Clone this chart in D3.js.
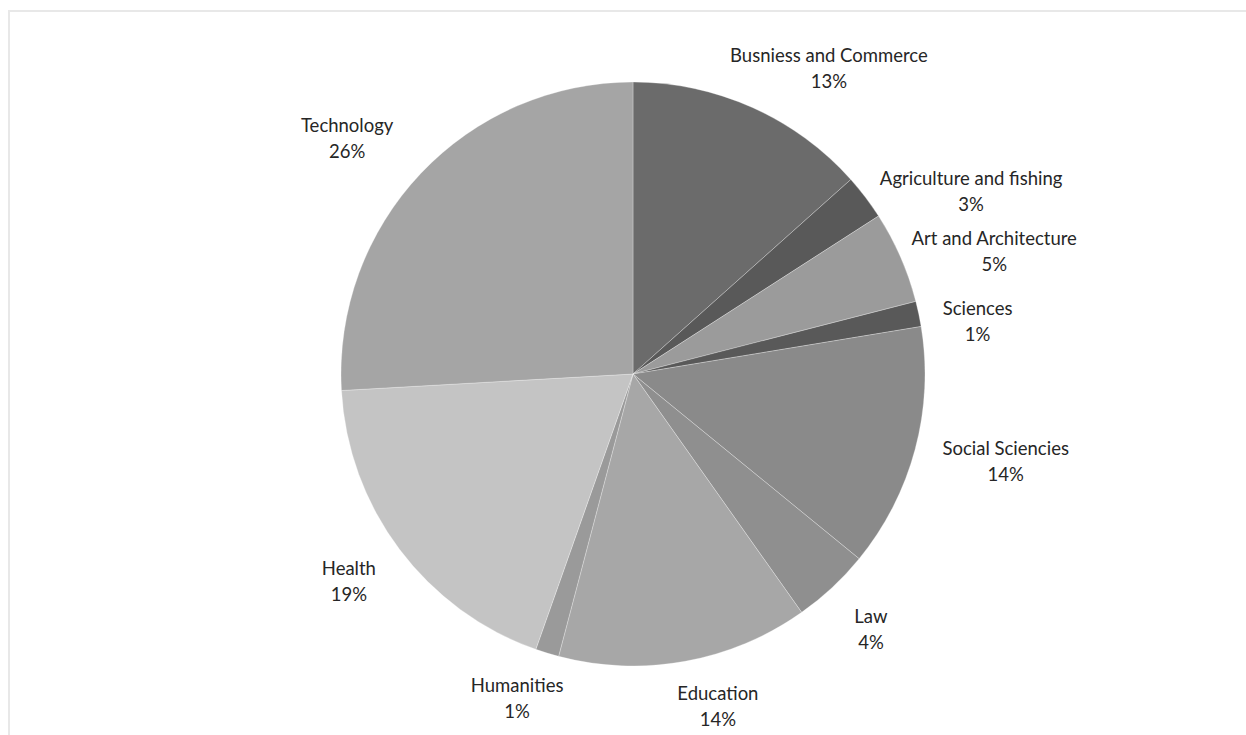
<!DOCTYPE html>
<html>
<head>
<meta charset="utf-8">
<script src="https://cdn.jsdelivr.net/npm/d3@7"></script>
<style>
  html, body { margin: 0; padding: 0; background: #fff; }
  svg { display: block; }
  .lbl { font-family: Lato, "Open Sans", sans-serif; font-size: 18.5px; fill: #262626; }
</style>
</head>
<body>
<svg id="chart" width="1246" height="735"></svg>
<script>
// Share of programmes by field (percent), clockwise from 12 o'clock
const categories = [
  "Busniess and Commerce", "Agriculture and fishing", "Art and Architecture",
  "Sciences", "Social Sciencies", "Law", "Education", "Humanities", "Health", "Technology"
];
const shares = [13.4, 2.5, 5.1, 1.4, 13.5, 4.3, 13.9, 1.3, 18.7, 25.9];
const sliceColors = [
  "#6b6b6b", "#595959", "#9b9b9b", "#595959", "#8a8a8a",
  "#8f8f8f", "#a7a7a7", "#9a9a9a", "#c4c4c4", "#a5a5a5"
];

const W = 1246, H = 735;
const cx = 633, cy = 374, radius = 292;

const svg = d3.select("#chart");

// light chart-area frame
svg.append("path")
  .attr("d", `M9,${H} V11 H${W}`)
  .attr("fill", "none")
  .attr("stroke", "#e8e8e8")
  .attr("stroke-width", 2);

const data = categories.map((c, i) => ({ name: c, value: shares[i], color: sliceColors[i] }));
const total = d3.sum(shares);

const pie = d3.pie().value(d => d.value).sort(null);
const arc = d3.arc().innerRadius(0).outerRadius(radius);
const arcs = pie(data);

const g = svg.append("g").attr("transform", `translate(${cx},${cy})`);

g.selectAll("path.slice")
  .data(arcs)
  .enter().append("path")
  .attr("class", "slice")
  .attr("d", arc)
  .attr("fill", d => d.data.color)
  .attr("stroke", "rgba(255,255,255,0.28)")
  .attr("stroke-width", 1);

// small label nudges so crowded labels spread like a best-fit layout
const labelNudge = {
  "Busniess and Commerce": [30, -3],
  "Agriculture and fishing": [21, 19],
  "Art and Architecture": [4, 11],
  "Sciences": [10, 17],
  "Social Sciencies": [15, 4],
  "Law": [17, 16],
  "Education": [23, 9],
  "Humanities": [-12, 11],
  "Health": [-17, 11],
  "Technology": [-29, -7]
};

// percent of total, rounded half-up after trimming float noise
const fmt = v => Math.round(Math.round(v / total * 1000) / 10) + "%";
const gap = 15;

arcs.forEach(a => {
  const mid = (a.startAngle + a.endAngle) / 2;
  const ux = Math.sin(mid), uy = -Math.cos(mid);
  const t = g.append("text").attr("class", "lbl").attr("text-anchor", "middle");
  t.append("tspan").attr("x", 0).attr("y", -8).text(a.data.name);
  t.append("tspan").attr("x", 0).attr("y", 18).text(fmt(a.data.value));
  const bb = t.node().getBBox();
  const w = bb.width, h = 46;
  const px = ux * (radius + gap) + ux * w / 2;
  const py = uy * (radius + gap) + uy * h / 2;
  const n = labelNudge[a.data.name] || [0, 0];
  t.attr("transform", `translate(${px + n[0]},${py + n[1]})`);
});
</script>
</body>
</html>
